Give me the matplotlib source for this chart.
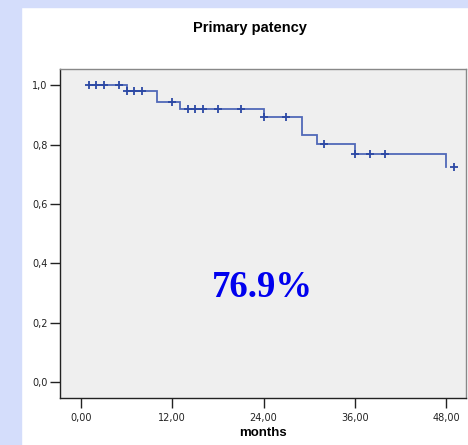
import matplotlib
matplotlib.use("Agg")
import matplotlib.pyplot as plt
from matplotlib.patches import Rectangle

# Kaplan-Meier step curve
step_times = [1, 6, 10, 13, 24, 29, 31, 36, 48]
step_surv = [1.0, 0.982, 0.944, 0.920, 0.893, 0.833, 0.802, 0.770, 0.724]

# censored observations
cens_times = [1, 2, 3, 5, 6, 7, 8, 12, 14, 15, 16, 18, 21, 24, 27, 32, 36, 38, 40, 49]
cens_surv = [1.0, 1.0, 1.0, 1.0, 0.982, 0.982, 0.982, 0.944, 0.920, 0.920, 0.920,
             0.920, 0.920, 0.893, 0.893, 0.802, 0.770, 0.770, 0.770, 0.724]

x_ticks = [0, 12, 24, 36, 48]
x_labels = ["0,00", "12,00", "24,00", "36,00", "48,00"]
y_ticks = [0.0, 0.2, 0.4, 0.6, 0.8, 1.0]
y_labels = ["0,0", "0,2", "0,4", "0,6", "0,8", "1,0"]

W, H = 468, 445
fig = plt.figure(figsize=(W / 100, H / 100), dpi=100)
fig.patch.set_facecolor("white")

# light blue frame strips on the left and top
band = "#d4ddfb"
fig.patches.append(Rectangle((0, 0), 21 / W, 1, transform=fig.transFigure,
                             color=band, zorder=0))
fig.patches.append(Rectangle((0, 1 - 7 / H), 1, 7 / H, transform=fig.transFigure,
                             color=band, zorder=0))

ax = fig.add_axes([60 / W, 1 - 397.5 / H, (466 - 60) / W, (397.5 - 69) / H])
ax.set_facecolor("#efefef")

# survival function, ending at the last event time
xs, ys = [], []
for i, (t, s) in enumerate(zip(step_times, step_surv)):
    if i > 0:
        xs.append(t)
        ys.append(step_surv[i - 1])
    xs.append(t)
    ys.append(s)
ax.plot(xs, ys, color="#5068b8", lw=1.3, solid_joinstyle="miter")
ax.plot(cens_times, cens_surv, linestyle="none", marker="+", ms=6, mew=1.3,
        color="#2c48a4")

ax.set_xlim(-2.76, 50.6)
ax.set_ylim(-0.052, 1.055)

ax.set_xticks(x_ticks)
ax.set_xticklabels(x_labels)
ax.set_yticks(y_ticks)
ax.set_yticklabels(y_labels)
ax.tick_params(axis="x", direction="out", length=7, width=1, pad=4,
               labelsize=7, colors="#222222")
ax.tick_params(axis="y", direction="out", length=7, width=1, pad=2,
               labelsize=7, colors="#222222")

for side in ["left", "bottom"]:
    ax.spines[side].set_color("#222222")
    ax.spines[side].set_linewidth(1.0)
for side in ["top", "right"]:
    ax.spines[side].set_color("#888888")
    ax.spines[side].set_linewidth(1.0)

# big percentage label in the middle of the plot area
ax.text(0.4975, 0.306, "76.9%", transform=ax.transAxes, ha="center",
        va="baseline", fontsize=26.5, fontweight="bold", color="#0000ee",
        family="Liberation Serif")

fig.text(250 / W, 1 - 28 / H, "Primary patency", ha="center", va="center",
         fontsize=10.5, fontweight="bold", family="Liberation Sans")
fig.text(263 / W, 1 - 433 / H, "months", ha="center", va="center",
         fontsize=9.5, fontweight="bold", family="Liberation Sans")

fig.savefig("out.png", dpi=100)
